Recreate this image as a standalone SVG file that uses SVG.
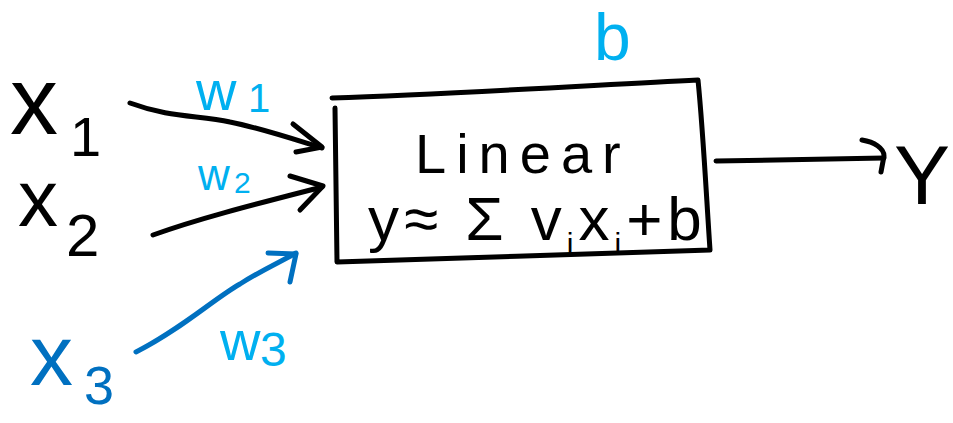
<svg xmlns="http://www.w3.org/2000/svg" width="953" height="423" viewBox="0 0 953 423">
<style>
.ink{fill:none;stroke:#000;stroke-width:5;stroke-linecap:round;stroke-linejoin:round}
.blue{fill:none;stroke:#0070C0;stroke-width:5;stroke-linecap:round;stroke-linejoin:round}
.t{font-family:"Liberation Sans",Arial,sans-serif;fill:#000}
.lb{fill:#00B0F0}
.db{fill:#0070C0}
</style>
<rect width="953" height="423" fill="#fff"/>
<g id="connectors">
<path class="ink" d="M130,103 C170,118 200,115 230,122 C260,128 290,138 322,148"/>
<path class="ink" d="M293,124 L322,147 L296,152"/>
<path class="ink" d="M153,235 C200,218 260,203 322,187"/>
<path class="ink" d="M290,176 L323,186 L300,210"/>
<path class="blue" d="M136,352 C180,330 215,298 240,284 C262,270 280,262 296,253"/>
<path class="blue" d="M268,253 L296,254 L290,282"/>
<path class="ink" d="M716,161 L884,158"/>
<path class="ink" d="M862,140 C874,142 884,148 884,156 L881,172"/>
</g>
<g id="x1">
<text class="t" x="10" y="134" font-size="96">x</text>
<text class="t" x="70" y="156" font-size="56">1</text>
</g>
<g id="x2">
<text class="t" x="18" y="226" font-size="80">x</text>
<text class="t" x="66" y="256" font-size="60">2</text>
</g>
<g id="x3">
<text class="t db" x="30" y="385" font-size="86">x</text>
<text class="t db" x="84" y="404" font-size="54">3</text>
</g>
<g id="w1"><text class="t lb" x="196" y="110" font-size="56">w</text><text class="t lb" x="248" y="112" font-size="40">1</text></g>
<g id="w2"><text class="t lb" x="198" y="190" font-size="44">w</text><text class="t lb" x="234" y="193" font-size="30">2</text></g>
<g id="w3"><text class="t lb" x="220" y="360" font-size="56">w</text><text class="t lb" x="260" y="366" font-size="48">3</text></g>
<g id="b"><text class="t lb" x="594" y="60" font-size="66">b</text></g>
<g id="linear">
<path class="ink" d="M332,98 C450,94 580,86 698,80 C703,130 706,190 710,250 C600,254 450,258 337,262 C336,210 336,160 335,108"/>
<text class="t" x="415" y="173" font-size="56" letter-spacing="10">Linear</text>
<text class="t" x="368" y="240" font-size="62" letter-spacing="5">y≈ Σ v<tspan font-size="30" dy="14">i</tspan><tspan dy="-14">x</tspan><tspan font-size="30" dy="14">i</tspan><tspan dy="-14">+b</tspan></text>
</g>
<g id="y"><text class="t" x="894" y="204" font-size="84">Y</text></g>
</svg>
